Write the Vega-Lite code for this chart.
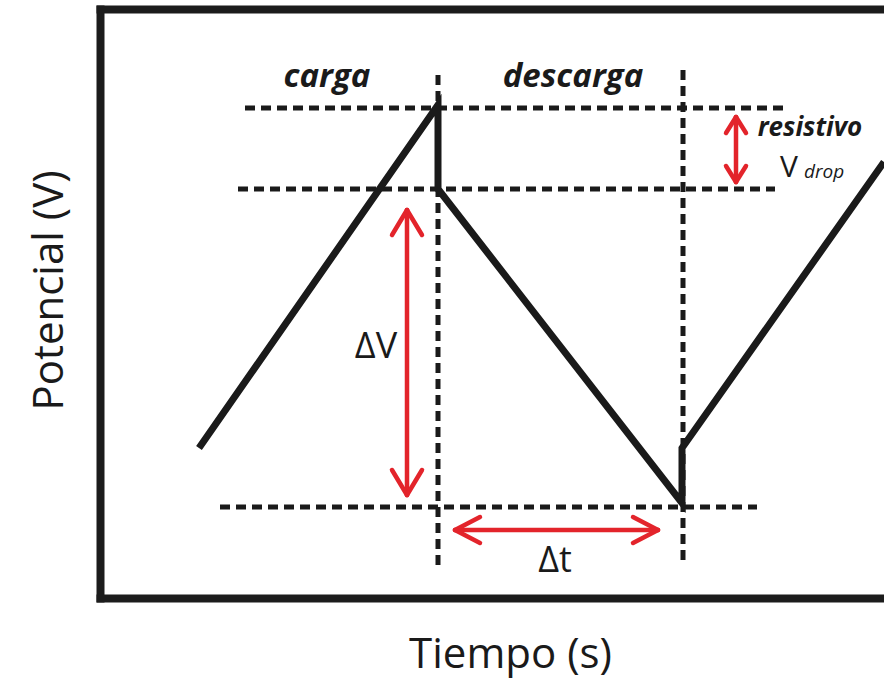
{
  "$schema": "https://vega.github.io/schema/vega-lite/v6.json",
  "width": 784,
  "height": 589,
  "autosize": {"type": "none"},
  "padding": {"left": 100, "top": 9, "right": 0, "bottom": 84},
  "background": "white",
  "config": {
    "view": {"stroke": null},
    "font": "Open Sans",
    "axis": {
      "domainWidth": 8,
      "domainColor": "#1c1c1c",
      "domainCap": "square",
      "ticks": false,
      "labels": false,
      "grid": false,
      "titleFont": "Open Sans",
      "titleFontSize": 42,
      "titleFontWeight": "normal",
      "titleColor": "#1a1a1a"
    }
  },
  "resolve": {"axis": {"x": "independent", "y": "independent"}},
  "datasets": {
    "curve": [
      {"i": 1, "t": 99, "v": 150},
      {"i": 2, "t": 338, "v": 493},
      {"i": 3, "t": 338, "v": 409},
      {"i": 4, "t": 582, "v": 95},
      {"i": 5, "t": 582, "v": 150},
      {"i": 6, "t": 784, "v": 436}
    ],
    "guides": [
      {"name": "top", "t": 145, "t2": 685, "v": 490, "v2": 490},
      {"name": "mid", "t": 138, "t2": 675, "v": 409, "v2": 409},
      {"name": "bottom", "t": 120, "t2": 657, "v": 91, "v2": 91},
      {"name": "left", "t": 338, "t2": 338, "v": 523, "v2": 33},
      {"name": "right", "t": 583, "t2": 583, "v": 528, "v2": 38}
    ],
    "arrows": [
      {"part": "dV shaft", "t": 307, "v": 388, "t2": 307, "v2": 103},
      {"part": "dV top a", "t": 307, "v": 388, "t2": 292, "v2": 363},
      {"part": "dV top b", "t": 307, "v": 388, "t2": 322, "v2": 363},
      {"part": "dV bot a", "t": 307, "v": 103, "t2": 292, "v2": 128},
      {"part": "dV bot b", "t": 307, "v": 103, "t2": 322, "v2": 128},
      {"part": "dt shaft", "t": 355, "v": 68, "t2": 558, "v2": 68},
      {"part": "dt left a", "t": 355, "v": 68, "t2": 380, "v2": 81},
      {"part": "dt left b", "t": 355, "v": 68, "t2": 380, "v2": 55},
      {"part": "dt right a", "t": 558, "v": 68, "t2": 533, "v2": 81},
      {"part": "dt right b", "t": 558, "v": 68, "t2": 533, "v2": 55},
      {"part": "drop shaft", "t": 636, "v": 481, "t2": 636, "v2": 416},
      {"part": "drop top a", "t": 636, "v": 481, "t2": 626, "v2": 465},
      {"part": "drop top b", "t": 636, "v": 481, "t2": 646, "v2": 465},
      {"part": "drop bot a", "t": 636, "v": 416, "t2": 626, "v2": 432},
      {"part": "drop bot b", "t": 636, "v": 416, "t2": 646, "v2": 432}
    ]
  },
  "layer": [
    {
      "data": {"values": [{"t": 0, "v": 0}]},
      "mark": {"type": "point", "opacity": 0},
      "encoding": {
        "x": {"field": "t", "type": "quantitative", "scale": {"domain": [0, 784], "nice": false, "zero": false}, "axis": {"orient": "top", "title": null}},
        "y": {"field": "v", "type": "quantitative", "scale": {"domain": [0, 589], "nice": false, "zero": false},
              "axis": {"orient": "left", "title": "Potencial (V)", "titleX": -38, "titleY": 281, "titleAngle": -90, "titleAlign": "center", "titleBaseline": "alphabetic"}}
      }
    },
    {
      "data": {"name": "guides"},
      "mark": {"type": "rule", "color": "#1a1a1a", "strokeWidth": 5, "strokeDash": [10, 6]},
      "encoding": {
        "x": {"field": "t", "type": "quantitative", "axis": null},
        "y": {"field": "v", "type": "quantitative", "axis": null},
        "x2": {"field": "t2"},
        "y2": {"field": "v2"}
      }
    },
    {
      "data": {"name": "curve"},
      "mark": {"type": "line", "color": "#1a1a1a", "strokeWidth": 7, "strokeJoin": "miter", "strokeCap": "butt", "clip": true},
      "encoding": {
        "x": {"field": "t", "type": "quantitative",
              "axis": {"orient": "bottom", "title": "Tiempo (s)", "titleX": 410, "titleY": 69, "titleAlign": "center", "titleBaseline": "alphabetic"}},
        "y": {"field": "v", "type": "quantitative", "axis": null},
        "order": {"field": "i", "type": "quantitative"}
      }
    },
    {
      "data": {"name": "arrows"},
      "mark": {"type": "rule", "color": "#e3242b", "strokeWidth": 4.5, "strokeCap": "round"},
      "encoding": {
        "x": {"field": "t", "type": "quantitative", "axis": null},
        "y": {"field": "v", "type": "quantitative", "axis": null},
        "x2": {"field": "t2"},
        "y2": {"field": "v2"}
      }
    },
    {
      "data": {"values": [{"label": "carga", "t": 227, "v": 511}, {"label": "descarga", "t": 473, "v": 511}]},
      "mark": {"type": "text", "font": "Open Sans", "fontSize": 33, "fontWeight": "bold", "fontStyle": "italic", "align": "center", "baseline": "alphabetic", "color": "#1a1a1a"},
      "encoding": {
        "x": {"field": "t", "type": "quantitative", "axis": null},
        "y": {"field": "v", "type": "quantitative", "axis": null},
        "text": {"field": "label"}
      }
    },
    {
      "data": {"values": [{"label": "ΔV", "t": 276, "v": 240}, {"label": "Δt", "t": 455, "v": 26}]},
      "mark": {"type": "text", "font": "Open Sans", "fontSize": 36, "align": "center", "baseline": "alphabetic", "color": "#1a1a1a"},
      "encoding": {
        "x": {"field": "t", "type": "quantitative", "axis": null},
        "y": {"field": "v", "type": "quantitative", "axis": null},
        "text": {"field": "label"}
      }
    },
    {
      "data": {"values": [{"label": "resistivo", "t": 710, "v": 462}]},
      "mark": {"type": "text", "font": "Open Sans", "fontSize": 26, "fontWeight": "bold", "fontStyle": "italic", "align": "center", "baseline": "alphabetic", "color": "#1a1a1a"},
      "encoding": {
        "x": {"field": "t", "type": "quantitative", "axis": null},
        "y": {"field": "v", "type": "quantitative", "axis": null},
        "text": {"field": "label"}
      }
    },
    {
      "data": {"values": [{"label": "V", "t": 680, "v": 421}]},
      "mark": {"type": "text", "font": "Open Sans", "fontSize": 30, "align": "left", "baseline": "alphabetic", "color": "#1a1a1a"},
      "encoding": {
        "x": {"field": "t", "type": "quantitative", "axis": null},
        "y": {"field": "v", "type": "quantitative", "axis": null},
        "text": {"field": "label"}
      }
    },
    {
      "data": {"values": [{"label": "drop", "t": 704, "v": 420}]},
      "mark": {"type": "text", "font": "Open Sans", "fontSize": 19, "fontStyle": "italic", "align": "left", "baseline": "alphabetic", "color": "#1a1a1a"},
      "encoding": {
        "x": {"field": "t", "type": "quantitative", "axis": null},
        "y": {"field": "v", "type": "quantitative", "axis": null},
        "text": {"field": "label"}
      }
    }
  ]
}
